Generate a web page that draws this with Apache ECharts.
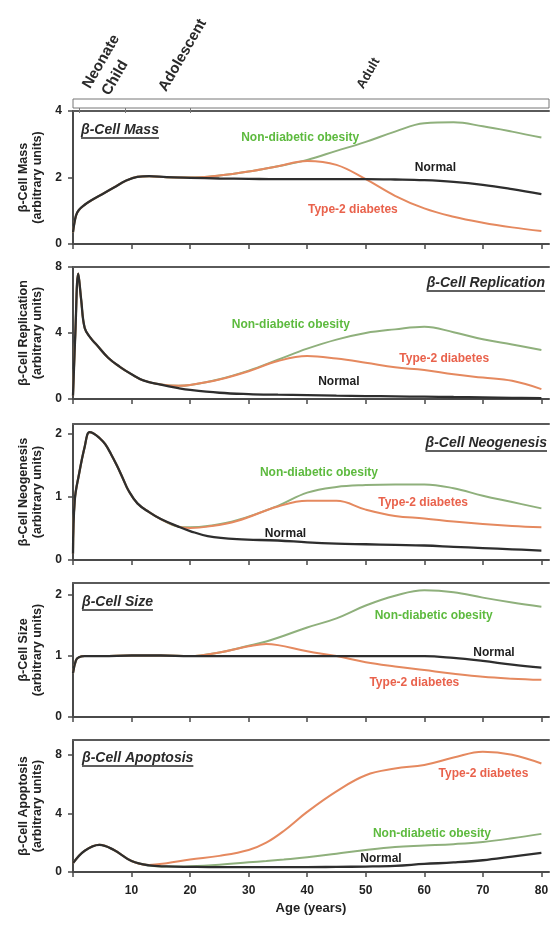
<!DOCTYPE html>
<html><head><meta charset="utf-8">
<script src="https://cdn.jsdelivr.net/npm/echarts@6/dist/echarts.min.js"></script>
<style>html,body{margin:0;padding:0;background:#fff}#c{width:553px;height:925px}</style>
</head><body><div id="c"></div>
<script>
// ---------- data ----------
const massAges   = [0, 0.5, 1, 2, 3, 5, 7, 9, 11, 13, 16, 20, 25, 30, 35, 40, 45, 50, 55, 60, 65, 70, 75, 80];
const massNormal = [0.35, 0.85, 1.02, 1.18, 1.3, 1.5, 1.7, 1.9, 2.02, 2.04, 2.01, 1.99, 1.97, 1.96, 1.95, 1.95, 1.95, 1.95, 1.94, 1.92, 1.87, 1.78, 1.65, 1.5];
const massObese  = [0.35, 0.85, 1.02, 1.18, 1.3, 1.5, 1.7, 1.9, 2.02, 2.04, 2.01, 2.0, 2.06, 2.18, 2.34, 2.53, 2.8, 3.07, 3.38, 3.63, 3.66, 3.54, 3.38, 3.2];
const massT2D    = [0.35, 0.85, 1.02, 1.18, 1.3, 1.5, 1.7, 1.9, 2.02, 2.04, 2.01, 2.0, 2.06, 2.18, 2.34, 2.5, 2.38, 1.95, 1.45, 1.07, 0.82, 0.64, 0.5, 0.39];

const repAges   = [0, 0.4, 0.9, 1.4, 2, 3, 4, 6, 8, 10, 12, 15, 18, 20, 25, 30, 35, 40, 45, 50, 55, 60, 65, 70, 75, 80];
const repNormal = [0.2, 4.0, 7.6, 6.0, 4.3, 3.7, 3.3, 2.5, 1.95, 1.5, 1.13, 0.87, 0.66, 0.55, 0.38, 0.3, 0.26, 0.23, 0.2, 0.18, 0.16, 0.14, 0.12, 0.1, 0.07, 0.05];
const repObese  = [0.2, 4.0, 7.6, 6.0, 4.3, 3.7, 3.3, 2.5, 1.95, 1.5, 1.13, 0.88, 0.8, 0.85, 1.2, 1.72, 2.38, 3.05, 3.6, 4.0, 4.22, 4.38, 4.05, 3.62, 3.3, 2.97];
const repT2D    = [0.2, 4.0, 7.6, 6.0, 4.3, 3.7, 3.3, 2.5, 1.95, 1.5, 1.13, 0.88, 0.8, 0.85, 1.18, 1.68, 2.3, 2.6, 2.45, 2.2, 1.92, 1.76, 1.5, 1.3, 1.1, 0.6];

const neoAges   = [0, 0.3, 1, 2, 2.8, 3.5, 4.5, 5.5, 6.5, 7.5, 8.5, 9.5, 11, 13, 15, 18, 20, 23, 28, 35, 40, 45, 50, 55, 60, 65, 70, 75, 80];
const neoNormal = [0.1, 0.95, 1.35, 1.8, 2.03, 2.01, 1.94, 1.84, 1.68, 1.5, 1.3, 1.1, 0.9, 0.76, 0.65, 0.53, 0.46, 0.38, 0.33, 0.31, 0.28, 0.26, 0.25, 0.24, 0.23, 0.21, 0.19, 0.17, 0.15];
const neoObese  = [0.1, 0.95, 1.35, 1.8, 2.03, 2.01, 1.94, 1.84, 1.68, 1.5, 1.3, 1.1, 0.9, 0.76, 0.65, 0.53, 0.52, 0.54, 0.63, 0.86, 1.07, 1.16, 1.19, 1.2, 1.2, 1.14, 1.02, 0.92, 0.82];
const neoT2D    = [0.1, 0.95, 1.35, 1.8, 2.03, 2.01, 1.94, 1.84, 1.68, 1.5, 1.3, 1.1, 0.9, 0.76, 0.65, 0.53, 0.51, 0.53, 0.62, 0.85, 0.94, 0.94, 0.8, 0.7, 0.66, 0.61, 0.57, 0.54, 0.52];

const sizeAges   = [0, 0.5, 1, 2, 5, 10, 15, 20, 25, 30, 33, 35, 40, 45, 50, 55, 60, 65, 70, 75, 80];
const sizeNormal = [0.72, 0.93, 0.98, 1.0, 1.0, 1.01, 1.01, 1.0, 1.0, 1.0, 1.0, 1.0, 1.0, 1.0, 1.0, 1.0, 1.0, 0.97, 0.92, 0.86, 0.81];
const sizeObese  = [0.72, 0.93, 0.98, 1.0, 1.0, 1.01, 1.01, 1.0, 1.06, 1.17, 1.24, 1.3, 1.47, 1.62, 1.83, 1.99, 2.08, 2.05, 1.96, 1.88, 1.81];
const sizeT2D    = [0.72, 0.93, 0.98, 1.0, 1.0, 1.01, 1.01, 1.0, 1.06, 1.16, 1.2, 1.18, 1.08, 1.0, 0.9, 0.83, 0.77, 0.71, 0.66, 0.63, 0.61];

const apopAges   = [0, 2, 4.5, 7, 10, 13, 16, 20, 25, 30, 33, 36, 40, 45, 50, 55, 60, 65, 70, 75, 80];
const apopNormal = [0.6, 1.45, 1.85, 1.5, 0.75, 0.45, 0.38, 0.35, 0.33, 0.33, 0.33, 0.33, 0.33, 0.35, 0.37, 0.42, 0.55, 0.65, 0.8, 1.05, 1.31];
const apopObese  = [0.6, 1.45, 1.85, 1.5, 0.75, 0.45, 0.38, 0.4, 0.5, 0.66, 0.75, 0.85, 1.0, 1.25, 1.5, 1.7, 1.8, 1.9, 2.05, 2.3, 2.6];
const apopT2D    = [0.6, 1.45, 1.85, 1.5, 0.75, 0.48, 0.6, 0.85, 1.1, 1.5, 2.0, 2.8, 4.1, 5.5, 6.6, 7.05, 7.3, 7.8, 8.2, 8.0, 7.4];

const xTicks = [0, 10, 20, 30, 40, 50, 60, 70, 80];
const xLabels = [10, 20, 30, 40, 50, 60, 70, 80];
const massTicks = [0, 2, 4];
const repTicks = [0, 4, 8];
const neoTicks = [0, 1, 2];
const sizeTicks = [0, 1, 2];
const apopTicks = [0, 4, 8];
const stageBounds = [1, 9, 20];
const stageNames = ['Neonate', 'Child', 'Adolescent', 'Adult'];
const seriesNames = ['Non-diabetic obesity', 'Type-2 diabetes', 'Normal'];

// ---------- layout ----------
const FONT = '"Liberation Sans", Arial, Helvetica, sans-serif';
const AX = '#4a4a4a';
const C_NORMAL = '#2e2e2e', C_OBESE = '#8fb07c', C_T2D = '#e5895f';
const T_OBESE = '#5dba3e', T_T2D = '#e9624c';
const LEFT = 73, RIGHT = 4, XMAX = 81.3;

const panels = [
  {top:111, height:133, ymax:4,    ticks:massTicks, name:'β-Cell Mass',        ages:massAges, s:[massObese, massT2D, massNormal],
   title:{x:81, y:130, align:'left'},
   labels:[[38.8,3.2],[47.8,1.02],[61.9,2.29]]},
  {top:267, height:132, ymax:8,    ticks:repTicks,  name:'β-Cell Replication', ages:repAges,  s:[repObese, repT2D, repNormal],
   title:{x:545, y:283, align:'right'},
   labels:[[37.2,4.48],[63.4,2.47],[45.4,1.05]]},
  {top:424, height:136, ymax:2.16, ticks:neoTicks,  name:'β-Cell Neogenesis',  ages:neoAges,  s:[neoObese, neoT2D, neoNormal],
   title:{x:547, y:443, align:'right'},
   labels:[[42,1.38],[59.8,0.91],[36.3,0.42]]},
  {top:583, height:134, ymax:2.2,  ticks:sizeTicks, name:'β-Cell Size',        ages:sizeAges, s:[sizeObese, sizeT2D, sizeNormal],
   title:{x:82, y:602, align:'left'},
   labels:[[61.6,1.67],[58.3,0.57],[71.9,1.06]]},
  {top:740, height:132, ymax:9,    ticks:apopTicks, name:'β-Cell Apoptosis',   ages:apopAges, s:[apopObese, apopT2D, apopNormal],
   title:{x:82, y:758, align:'left'},
   labels:[[61.3,2.64],[70.1,6.73],[52.6,0.93]]}
];

const grid = [], xAxis = [], yAxis = [], series = [];
panels.forEach((p, i) => {
  const last = i === panels.length - 1;
  grid.push({left:LEFT, right:RIGHT, top:p.top, height:p.height});
  xAxis.push({
    type:'value', gridIndex:i, min:0, max:XMAX, interval:10, position:'bottom',
    axisLine:{show:true, onZero:false, lineStyle:{color:AX, width:2}},
    axisTick:{show:true, length:5, customValues:xTicks, lineStyle:{color:AX, width:1.5}},
    axisLabel:{show:last, customValues:xLabels, margin:13, color:'#222', fontFamily:FONT, fontWeight:'bold', fontSize:12,
      formatter:v => (v % 10 === 0 && v > 0) ? String(v) : ''},
    splitLine:{show:false},
    name: last ? 'Age (years)' : '', nameLocation:'middle', nameGap:30,
    nameTextStyle:{color:'#222', fontFamily:FONT, fontWeight:'bold', fontSize:13}
  });
  xAxis.push({
    type:'value', gridIndex:i, min:0, max:XMAX, position:'top',
    axisLine:{show:true, onZero:false, lineStyle:{color:'#5a5a5a', width:2}},
    axisTick:{show:false}, axisLabel:{show:false}, splitLine:{show:false}
  });
  yAxis.push({
    type:'value', gridIndex:i, min:0, max:p.ymax, interval:1,
    axisLine:{show:true, onZero:false, lineStyle:{color:AX, width:2}},
    axisTick:{show:true, length:5, customValues:p.ticks, lineStyle:{color:AX, width:1.5}},
    axisLabel:{customValues:p.ticks, margin:11, color:'#222', fontFamily:FONT, fontWeight:'bold', fontSize:12,
      formatter:v => p.ticks.indexOf(v) >= 0 ? String(v) : ''},
    splitLine:{show:false},
    name: p.name + '\n(arbitrary units)', nameLocation:'middle', nameRotate:90, nameGap:27,
    nameTextStyle:{color:'#222', fontFamily:FONT, fontWeight:'bold', fontSize:12.5, lineHeight:14}
  });
  const cols = [C_OBESE, C_T2D, C_NORMAL];
  const widths = [2, 2, 2.3];
  p.s.forEach((vals, k) => {
    series.push({
      type:'line', name:seriesNames[k] + ' ' + i, xAxisIndex:i*2, yAxisIndex:i,
      data:p.ages.map((a, j) => [a, vals[j]]),
      showSymbol:false, smooth:0.4, silent:true,
      lineStyle:{color:cols[k], width:widths[k]}, z:2 + k
    });
  });
});

// stage bar grid
const SI = panels.length;
grid.push({left:LEFT, right:RIGHT, top:99, height:9, show:true, borderColor:'#777', borderWidth:1});
xAxis.push({type:'value', gridIndex:SI, min:0, max:XMAX, position:'top',
  axisLine:{show:false}, axisTick:{show:true, inside:true, length:5, customValues:stageBounds, lineStyle:{color:'#777', width:1}},
  axisLabel:{show:false}, splitLine:{show:false}});
yAxis.push({type:'value', gridIndex:SI, min:0, max:1, show:false});
series.push({type:'line', xAxisIndex:SI*2, yAxisIndex:SI, data:[], silent:true});

const chart = echarts.init(document.getElementById('c'));
chart.setOption({animation:false, backgroundColor:'#fff', grid, xAxis, yAxis, series});

// ---------- text overlays ----------
const ctx = document.createElement('canvas').getContext('2d');
const graphics = [];
const titleFont = 'italic bold 14px ' + FONT;
ctx.font = titleFont;
panels.forEach((p, i) => {
  const w = ctx.measureText(p.name).width;
  const x0 = p.title.align === 'left' ? p.title.x : p.title.x - w;
  graphics.push({type:'text', x:x0, y:p.title.y, style:{text:p.name, font:titleFont, fill:'#2a2a2a', align:'left', verticalAlign:'middle', textAlign:'left', textVerticalAlign:'middle'}});
  graphics.push({type:'line', shape:{x1:x0, y1:p.title.y + 8, x2:x0 + w, y2:p.title.y + 8}, style:{stroke:'#2a2a2a', lineWidth:1.3}});
  const tcols = [T_OBESE, T_T2D, '#1e1e1e'];
  p.labels.forEach((pt, k) => {
    const px = chart.convertToPixel({xAxisIndex:i*2, yAxisIndex:i}, pt);
    graphics.push({type:'text', x:px[0], y:px[1], z:10,
      style:{text:seriesNames[k], font:'bold 12px ' + FONT, fill:tcols[k], align:'center', verticalAlign:'middle', textAlign:'center', textVerticalAlign:'middle'}});
  });
});
// stage labels: [age at text start, baseline y, font size]
const stagePos = [[3.4, 91, 15], [6.7, 98, 15], [16.4, 94, 15], [50.0, 91, 13]];
stageNames.forEach((s, k) => {
  const x = chart.convertToPixel({xAxisIndex:SI*2}, stagePos[k][0]);
  graphics.push({type:'text', x:x, y:stagePos[k][1], rotation:60 * Math.PI / 180,
    style:{text:s, font:'bold ' + stagePos[k][2] + 'px ' + FONT, fill:'#2a2a2a', align:'left', verticalAlign:'bottom', textAlign:'left', textVerticalAlign:'bottom'}});
});
chart.setOption({graphic:graphics});
</script>
</body></html>
